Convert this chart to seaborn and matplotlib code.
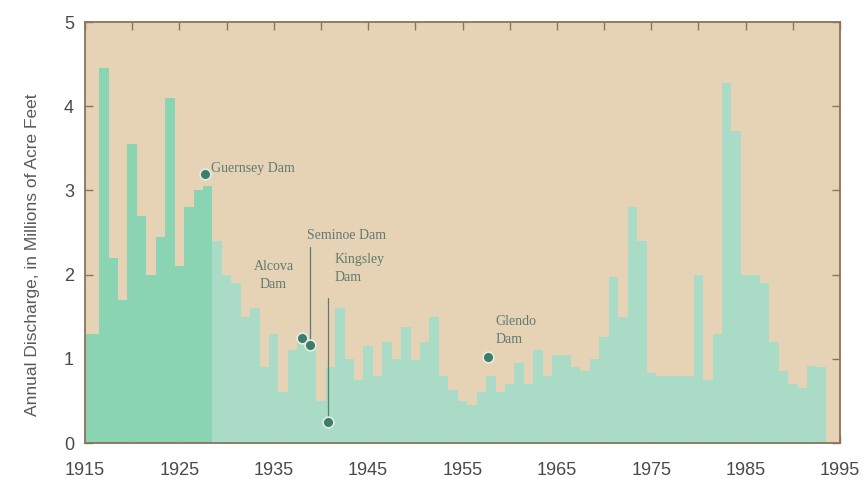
import pandas as pd
import numpy as np
import seaborn as sns
import matplotlib.pyplot as plt

# ======================================================
# Data
# ======================================================

years = list(range(1915, 1994))

discharge = [
    1.30, 1.30, 4.45, 2.20, 1.70, 3.55, 2.70, 2.00, 2.45, 4.10,   # 1915-1924
    2.10, 2.80, 3.00, 3.05, 2.40, 2.00, 1.90, 1.50, 1.60, 0.90,   # 1925-1934
    1.30, 0.60, 1.10, 1.25, 1.16, 0.50, 0.90, 1.60, 1.00, 0.75,   # 1935-1944
    1.15, 0.80, 1.20, 1.00, 1.38, 0.98, 1.20, 1.50, 0.80, 0.63,   # 1945-1954
    0.50, 0.45, 0.60, 0.80, 0.60, 0.70, 0.95, 0.70, 1.10, 0.80,   # 1955-1964
    1.05, 1.05, 0.90, 0.85, 1.00, 1.26, 1.97, 1.50, 2.80, 2.40,   # 1965-1974
    0.83, 0.80, 0.80, 0.80, 0.80, 2.00, 0.75, 1.30, 4.27, 3.70,   # 1975-1984
    2.00, 2.00, 1.90, 1.20, 0.85, 0.70, 0.65, 0.92, 0.90,         # 1985-1993
]

dam_names = ["Guernsey Dam", "Alcova\nDam", "Seminoe Dam", "Kingsley\nDam", "Glendo\nDam"]
dam_years = [1927.7, 1938.0, 1938.8, 1940.8, 1957.7]
dam_values = [3.20, 1.25, 1.16, 0.25, 1.02]

df = pd.DataFrame({"year": years, "discharge": discharge})
df["period"] = np.where(df["year"] <= 1928, "before", "after")

# ======================================================
# Plot
# ======================================================

sns.set_theme(style="ticks")
plt.rcParams["font.family"] = ["Liberation Sans Narrow", "Liberation Sans", "DejaVu Sans"]

bg = "#E6D3B6"
frame = "#8B735C"
label_col = "#5f7a70"

fig = plt.figure(figsize=(8.65, 4.79), dpi=100)
ax = fig.add_axes([85 / 865, 36 / 479, 755 / 865, 421 / 479])
ax.set_facecolor(bg)

sns.histplot(
    data=df,
    x="year",
    weights="discharge",
    hue="period",
    hue_order=["before", "after"],
    palette={"before": "#8AD4B4", "after": "#A9DBC6"},
    discrete=True,
    element="step",
    alpha=1,
    linewidth=0,
    legend=False,
    ax=ax,
)

# dam markers
sns.scatterplot(
    x=dam_years,
    y=dam_values,
    color="#3f7d68",
    s=60,
    edgecolor="#dfeee6",
    linewidth=1.2,
    zorder=5,
    ax=ax,
)

txt = dict(color=label_col, fontsize=10, family=["Liberation Serif", "DejaVu Serif"])

ax.text(dam_years[0] + 0.7, dam_values[0] + 0.06, dam_names[0], ha="left", va="center", **txt)
ax.text(dam_years[1] - 0.9, 1.99, dam_names[1], ha="right", va="center",
        multialignment="center", linespacing=1.5, **txt)
ax.text(dam_years[2] - 0.3, 2.46, dam_names[2], ha="left", va="center", **txt)
ax.plot([dam_years[2], dam_years[2]], [dam_values[2] + 0.05, 2.33], color=label_col, lw=0.9)
ax.text(dam_years[3] + 0.6, 2.07, dam_names[3], ha="left", va="center",
        multialignment="left", linespacing=1.5, **txt)
ax.plot([dam_years[3], dam_years[3]], [dam_values[3] + 0.05, 1.72], color=label_col, lw=0.9)
ax.text(dam_years[4] + 0.8, 1.34, dam_names[4], ha="left", va="center",
        multialignment="left", linespacing=1.5, **txt)

ax.set_xlim(1915, 1995)
ax.set_ylim(0, 5)

xt = list(range(1915, 1996, 5))
ax.set_xticks(xt)
ax.set_xticklabels([str(y) if (y - 1915) % 10 == 0 else "" for y in xt])
ax.set_yticks(range(0, 6))

ax.tick_params(axis="both", direction="in", length=6, width=1, color=frame,
               top=True, right=True, labelsize=13, labelcolor="#4a4a4a")
ax.tick_params(axis="x", pad=14)
ax.tick_params(axis="y", pad=8)

for s in ax.spines.values():
    s.set_visible(True)
    s.set_color(frame)
    s.set_linewidth(1.3)

ax.set_xlabel("")
ax.set_ylabel("Annual Discharge, in Millions of Acre Feet", fontsize=12.5, color="#5a5a5a")
ax.yaxis.set_label_coords(-0.06, 0.447)

plt.savefig("out.png", dpi=100)
